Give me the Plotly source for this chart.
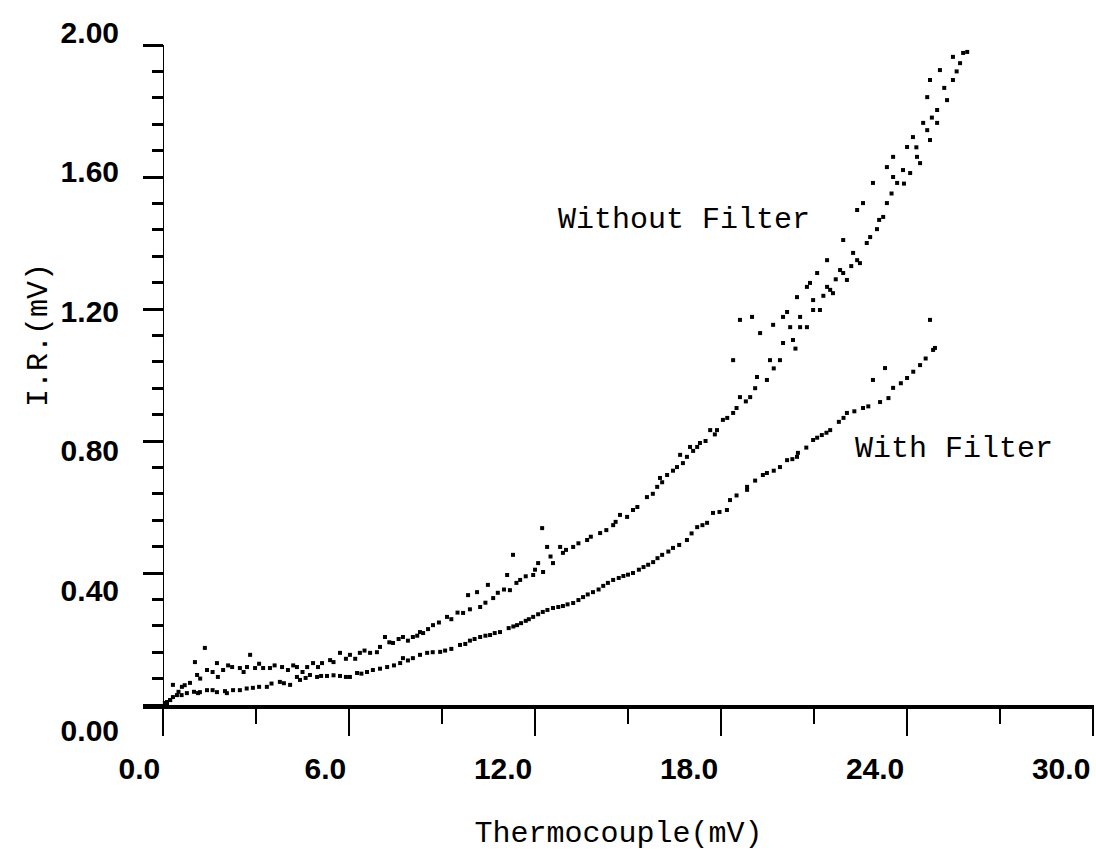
import plotly.graph_objects as go

# ---------------- data ----------------
# "Without Filter" run (several heating / cooling passes)
wo_x = [0.13, 0.23, 0.32, 0.61, 0.87, 1.03, 1.10, 1.35, 1.42, 1.74, 1.77, 1.94, 2.23, 2.48,
        2.71, 2.81, 2.97, 3.23, 3.45, 3.84, 4.03, 4.32, 4.65, 4.84, 5.13, 5.39, 5.71, 6.03,
        6.35, 6.68, 7.00, 7.16, 7.42, 7.74, 8.06, 8.29, 8.39, 8.71, 9.16, 9.68, 9.84, 10.13,
        10.23, 10.48, 10.65, 11.10, 11.19, 11.29, 11.52, 11.94, 12.23, 12.26, 12.39, 12.58,
        12.81, 12.90, 13.23, 13.68, 14.10, 14.52, 14.74, 14.97, 15.16, 15.61, 15.94, 16.03,
        16.26, 16.58, 16.68, 16.77, 16.90, 17.00, 17.23, 17.32, 17.65, 17.87, 18.06, 18.39,
        18.39, 18.61, 18.61, 18.94, 19.00, 19.16, 19.26, 19.48, 19.58, 19.68, 19.90, 20.00,
        20.00, 20.13, 20.23, 20.32, 20.45, 20.55, 20.55, 20.77, 20.77, 20.87, 20.97, 20.97,
        21.10, 21.19, 21.42, 21.42, 21.52, 21.61, 21.84, 21.94, 21.94, 22.06, 22.26, 22.39,
        22.39, 22.48, 22.58, 22.81, 22.90, 23.03, 23.23, 23.35, 23.35, 23.55, 23.55, 23.68,
        23.87, 24.00, 24.10, 24.19, 24.32, 24.42, 24.52, 24.65, 24.65, 24.74, 24.74, 24.97,
        24.97, 25.06, 25.29, 25.48, 25.48, 25.71, 25.81, 25.94,
        0.50, 0.70, 1.20, 1.60, 2.10, 2.60, 3.10, 3.60, 4.20, 4.50, 5.00, 5.50, 5.90, 6.20,
        6.50, 6.90, 7.30, 7.60, 7.90, 8.20, 8.55, 8.90, 9.30, 9.50, 9.90, 10.40, 10.80, 11.00,
        11.40, 11.70, 12.00, 12.10, 12.50, 13.00, 13.40, 13.80, 14.30, 14.60, 15.30, 15.80,
        16.10, 16.45, 17.10, 17.50, 17.80, 18.20, 18.50, 18.80, 19.10, 19.70, 20.40, 21.30,
        21.70, 22.20, 22.70, 23.10, 23.50, 23.90, 24.30, 24.80, 25.20, 25.60]
wo_y = [0.006, 0.015, 0.061, 0.055, 0.067, 0.130, 0.091, 0.173, 0.106, 0.127, 0.085, 0.106,
        0.115, 0.112, 0.115, 0.152, 0.112, 0.112, 0.112, 0.115, 0.106, 0.115, 0.115, 0.127,
        0.127, 0.136, 0.158, 0.152, 0.158, 0.158, 0.176, 0.206, 0.188, 0.206, 0.206, 0.221,
        0.218, 0.242, 0.267, 0.279, 0.333, 0.342, 0.297, 0.364, 0.324, 0.394, 0.348, 0.455,
        0.379, 0.394, 0.536, 0.403, 0.479, 0.430, 0.479, 0.461, 0.479, 0.500, 0.521, 0.545,
        0.576, 0.570, 0.591, 0.630, 0.661, 0.688, 0.697, 0.721, 0.758, 0.733, 0.752, 0.782,
        0.782, 0.794, 0.833, 0.833, 0.864, 0.885, 1.045, 0.933, 1.167, 0.933, 1.176, 0.994,
        1.127, 0.985, 1.045, 1.152, 1.045, 1.097, 1.176, 1.191, 1.145, 1.106, 1.236, 1.176,
        1.145, 1.267, 1.145, 1.279, 1.227, 1.197, 1.309, 1.197, 1.348, 1.267, 1.258, 1.248,
        1.318, 1.409, 1.309, 1.288, 1.370, 1.500, 1.348, 1.339, 1.521, 1.418, 1.582, 1.442,
        1.479, 1.630, 1.521, 1.661, 1.600, 1.582, 1.621, 1.691, 1.612, 1.721, 1.661, 1.642,
        1.764, 1.842, 1.742, 1.894, 1.712, 1.803, 1.764, 1.924, 1.833, 1.964, 1.894, 1.945,
        1.976, 1.979,
        0.040, 0.060, 0.080, 0.100, 0.120, 0.100, 0.125, 0.120, 0.120, 0.100, 0.115, 0.130,
        0.140, 0.140, 0.165, 0.160, 0.190, 0.200, 0.195, 0.210, 0.230, 0.250, 0.260, 0.280,
        0.290, 0.310, 0.340, 0.350, 0.370, 0.390, 0.410, 0.430, 0.450, 0.470, 0.490, 0.510,
        0.530, 0.555, 0.600, 0.640, 0.675, 0.710, 0.770, 0.800, 0.820, 0.870, 0.900, 0.920,
        0.960, 1.020, 1.080, 1.240, 1.290, 1.330, 1.400, 1.470, 1.550, 1.580, 1.690, 1.780,
        1.870, 1.920]

# "With Filter" run
wf_x = [0.06, 0.13, 0.23, 0.32, 0.45, 0.77, 1.13, 1.19, 1.42, 1.74, 2.06, 2.26, 2.48, 2.90,
        3.35, 3.77, 4.10, 4.32, 4.42, 4.74, 4.97, 5.29, 5.71, 6.03, 6.26, 6.58, 6.77, 7.23,
        7.65, 7.74, 8.06, 8.29, 8.52, 8.94, 9.30, 9.58, 9.90, 10.23, 10.55, 10.87, 11.15,
        11.42, 11.70, 11.94, 12.25, 12.58, 12.90, 13.23, 13.55, 13.87, 14.20, 14.52, 14.85,
        15.16, 15.50, 15.81, 16.10, 16.45, 16.90, 17.23, 17.55, 17.74, 18.19, 18.29, 18.84,
        18.84, 19.35, 19.48, 19.90, 20.13, 20.45, 20.48, 20.97, 21.25, 21.52, 21.80, 22.06,
        22.58, 22.90, 23.13, 23.29, 23.55, 24.00, 24.42, 24.74, 24.84, 24.90,
        0.60, 1.00, 1.60, 2.00, 2.70, 3.10, 3.50, 3.90, 4.60, 5.10, 5.50, 5.90, 6.40, 7.00,
        7.45, 7.90, 8.70, 9.10, 9.75, 10.05, 10.40, 10.70, 11.30, 11.55, 11.80, 12.10, 12.40,
        12.75, 13.05, 13.40, 13.70, 14.05, 14.35, 14.70, 15.00, 15.35, 15.65, 15.95, 16.30,
        16.65, 17.05, 17.40, 17.95, 18.50, 19.10, 19.70, 20.30, 20.75, 21.10, 21.40, 21.95,
        22.30, 22.75, 23.40, 23.80, 24.20, 24.60]
wf_y = [0.006, 0.009, 0.015, 0.024, 0.030, 0.036, 0.036, 0.039, 0.045, 0.039, 0.036, 0.045,
        0.045, 0.052, 0.055, 0.070, 0.061, 0.085, 0.076, 0.091, 0.085, 0.088, 0.088, 0.085,
        0.097, 0.100, 0.106, 0.115, 0.127, 0.142, 0.142, 0.152, 0.158, 0.161, 0.170, 0.182,
        0.195, 0.206, 0.212, 0.221, 0.233, 0.242, 0.255, 0.267, 0.282, 0.294, 0.300, 0.309,
        0.327, 0.342, 0.361, 0.379, 0.391, 0.400, 0.418, 0.433, 0.455, 0.476, 0.500, 0.539,
        0.552, 0.582, 0.591, 0.621, 0.652, 0.661, 0.697, 0.703, 0.721, 0.742, 0.752, 0.764,
        0.803, 0.818, 0.833, 0.858, 0.885, 0.900, 0.985, 0.918, 1.021, 0.961, 0.991, 1.030,
        1.167, 1.076, 1.082,
        0.030, 0.040, 0.045, 0.042, 0.050, 0.055, 0.065, 0.066, 0.082, 0.088, 0.090, 0.085,
        0.095, 0.110, 0.120, 0.135, 0.160, 0.165, 0.185, 0.200, 0.210, 0.218, 0.238, 0.248,
        0.260, 0.275, 0.288, 0.297, 0.305, 0.318, 0.335, 0.350, 0.370, 0.385, 0.395, 0.410,
        0.425, 0.445, 0.465, 0.485, 0.520, 0.545, 0.585, 0.635, 0.680, 0.710, 0.745, 0.780,
        0.810, 0.825, 0.870, 0.890, 0.905, 0.930, 0.975, 1.010, 1.050]

x_tick_vals = [0, 6, 12, 18, 24, 30]
x_tick_text = ["0.0", "6.0", "12.0", "18.0", "24.0", "30.0"]
y_tick_vals = [0.0, 0.4, 0.8, 1.2, 1.6, 2.0]
y_tick_text = ["0.00", "0.40", "0.80", "1.20", "1.60", "2.00"]

# ---------------- styling ----------------
TICK_FONT = dict(family="Liberation Sans, Arial, sans-serif", size=30, color="black", weight="bold")
MONO = dict(family="Liberation Mono, Courier New, monospace", size=30, color="black")
MARK = dict(symbol="square", size=4, color="black", line=dict(width=0))

fig = go.Figure()
fig.add_trace(go.Scatter(x=wo_x, y=wo_y, mode="markers", name="Without Filter", marker=MARK))
fig.add_trace(go.Scatter(x=wf_x, y=wf_y, mode="markers", name="With Filter", marker=MARK))
# carrier for the label axis
fig.add_trace(go.Scatter(x=[None], y=[None], yaxis="y2", mode="markers",
                         showlegend=False, hoverinfo="skip"))

fig.update_layout(
    width=1096, height=852,
    margin=dict(l=143, r=2, t=20, b=92, pad=0),
    paper_bgcolor="white", plot_bgcolor="rgba(0,0,0,0)",
    showlegend=False,
    xaxis=dict(range=[-0.645, 30.03], anchor="y", showline=True, linewidth=4, linecolor="black",
               showgrid=False, zeroline=False, ticks="outside", ticklen=27, tickwidth=1.5,
               tickcolor="black", tickmode="array", tickvals=x_tick_vals, ticktext=x_tick_text,
               ticklabelposition="outside left", ticklabeloverflow="allow",
               ticklabelstandoff=34, tickfont=TICK_FONT,
               minor=dict(ticks="outside", ticklen=15, tickwidth=1.5, tickcolor="black",
                          tickmode="linear", tick0=0, dtick=3, showgrid=False),
               title=dict(text="Thermocouple(mV)", font=MONO, standoff=38)),
    yaxis=dict(domain=[0.074324, 0.966216], range=[0, 2], anchor="free", position=0.021053,
               showline=True, linewidth=1.2, linecolor="black", showgrid=False, zeroline=False,
               ticks="outside", ticklen=20, tickwidth=2.5, tickcolor="black",
               tickmode="array", tickvals=y_tick_vals, showticklabels=False,
               minor=dict(ticks="outside", ticklen=11, tickwidth=2.5, tickcolor="black",
                          tickmode="linear", tick0=0, dtick=0.08, showgrid=False)),
    yaxis2=dict(domain=[0, 1], range=[-0.08596, 2.03438], anchor="free", position=0,
                showline=False, showgrid=False, zeroline=False,
                ticks="outside", ticklen=18, tickcolor="rgba(0,0,0,0)",
                tickmode="array", tickvals=y_tick_vals, ticktext=y_tick_text, tickfont=TICK_FONT),
    annotations=[
        dict(x=-0.1293, y=0.5743, xref="paper", yref="paper", text="I.R.(mV)", textangle=-90,
             showarrow=False, font=MONO),
        dict(x=16.8, y=1.47, xref="x", yref="y", text="Without Filter", showarrow=False, font=MONO),
        dict(x=25.5, y=0.775, xref="x", yref="y", text="With Filter", showarrow=False, font=MONO),
    ],
)

fig.write_html("out.html")
